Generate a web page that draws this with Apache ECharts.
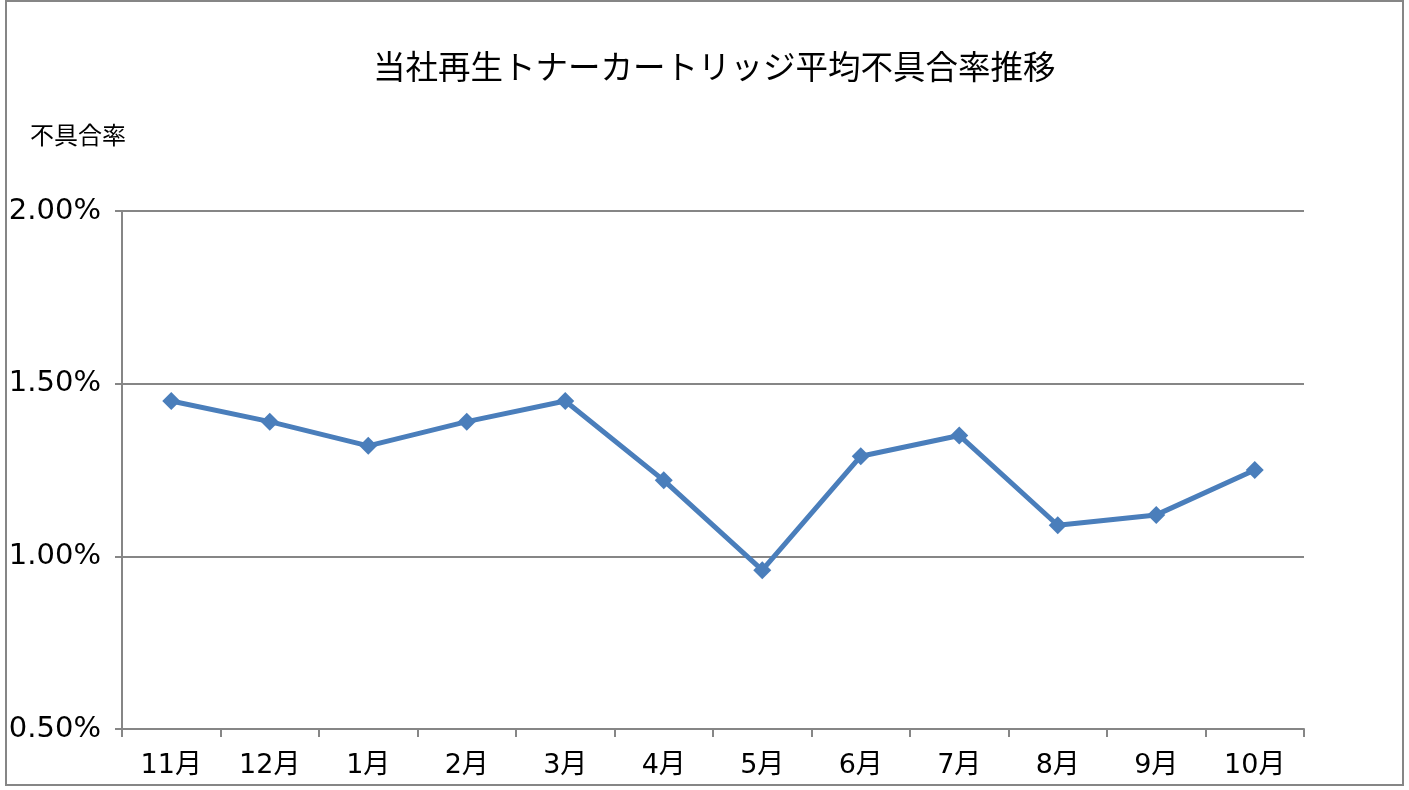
<!DOCTYPE html>
<html>
<head>
<meta charset="utf-8">
<script src="https://cdn.jsdelivr.net/npm/echarts@6/dist/echarts.min.js"></script>
<style>
  html, body { margin: 0; padding: 0; background: #fff; }
  #chart { width: 1409px; height: 790px; }
</style>
</head>
<body>
<div id="chart"></div>
<script>
const months = ['11月', '12月', '1月', '2月', '3月', '4月', '5月', '6月', '7月', '8月', '9月', '10月'];
const defectRate = [1.45, 1.39, 1.32, 1.39, 1.45, 1.22, 0.96, 1.29, 1.35, 1.09, 1.12, 1.25];
const yTicks = [0.5, 1.0, 1.5, 2.0];

const cjk = '"Noto Sans CJK JP", sans-serif';
const wide = '"DejaVu Sans", "Noto Sans CJK JP", sans-serif';
const axisGray = '#868686';

const chart = echarts.init(document.getElementById('chart'), null, { renderer: 'canvas' });

chart.setOption({
  backgroundColor: '#fff',
  animation: false,
  title: {
    text: '当社再生トナーカートリッジ平均不具合率推移',
    left: 373,
    top: 50,
    padding: 0,
    textStyle: { fontFamily: cjk, fontSize: 32.5, fontWeight: 'normal', color: '#000' }
  },
  graphic: [{
    type: 'rect',
    shape: { x: 6, y: 1, width: 1397, height: 784 },
    style: { fill: 'none', stroke: axisGray, lineWidth: 2 },
    silent: true
  }],
  grid: { left: 122, right: 105, top: 211, bottom: 61 },
  xAxis: {
    type: 'category',
    data: months,
    boundaryGap: true,
    axisLine: { lineStyle: { color: axisGray, width: 2 } },
    axisTick: { show: true, length: 8, lineStyle: { color: axisGray, width: 2 } },
    axisLabel: { fontFamily: wide, fontSize: 27, color: '#000', margin: 23 }
  },
  yAxis: {
    type: 'value',
    min: yTicks[0],
    max: yTicks[yTicks.length - 1],
    interval: 0.5,
    name: '不具合率',
    nameLocation: 'end',
    nameGap: 64,
    nameTextStyle: { fontFamily: cjk, fontSize: 24, color: '#000', align: 'left', padding: [0, 0, 0, -92] },
    axisLine: { show: true, lineStyle: { color: axisGray, width: 2 } },
    axisTick: { show: true, length: 7, lineStyle: { color: axisGray, width: 2 } },
    axisLabel: {
      fontFamily: wide, fontSize: 29, color: '#000', margin: 21,
      formatter: v => v.toFixed(2) + '%'
    },
    splitLine: { show: true, lineStyle: { color: axisGray, width: 2 } }
  },
  series: [{
    type: 'line',
    data: defectRate,
    symbol: 'diamond',
    symbolSize: 18,
    lineStyle: { color: '#4a7ebb', width: 5 },
    itemStyle: { color: '#4a7ebb' }
  }]
});
</script>
</body>
</html>
